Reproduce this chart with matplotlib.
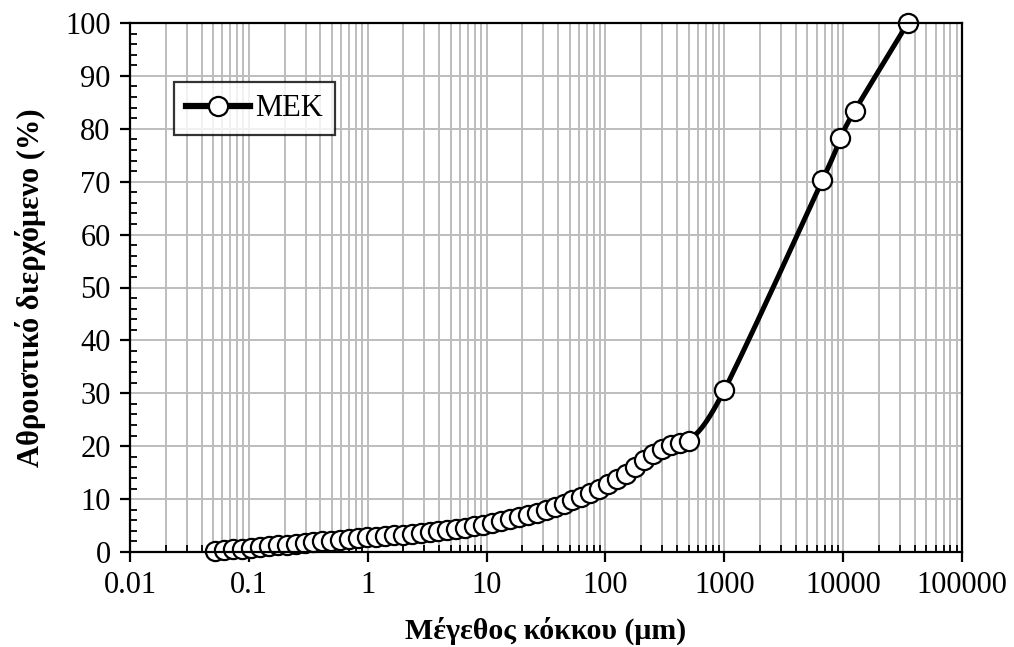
import numpy as np
import matplotlib
matplotlib.use("Agg")
import matplotlib.pyplot as plt
from matplotlib.ticker import LogLocator, FixedLocator, FixedFormatter, MultipleLocator, NullFormatter
from matplotlib.lines import Line2D

# ---- data ----
size_um = [0.052, 0.0618, 0.0735, 0.0874, 0.104, 0.1235, 0.147, 0.175, 0.208, 0.247,
           0.294, 0.349, 0.415, 0.493, 0.587, 0.698, 0.829, 0.986, 1.172, 1.394,
           1.657, 1.970, 2.343, 2.786, 3.312, 3.938, 4.682, 5.567, 6.619, 7.869,
           9.357, 11.12, 13.23, 15.73, 18.70, 22.23, 26.43, 31.43, 37.36, 44.43,
           52.82, 62.81, 74.67, 88.78, 105.6, 125.5, 149.2, 177.4, 210.9, 250.8,
           298.2, 354.5, 421.5, 501.2, 1000, 6700, 9500, 12500, 35000]
passing_pct = [0.2, 0.35, 0.5, 0.65, 0.8, 0.95, 1.1, 1.25, 1.4, 1.55,
               1.7, 1.85, 2.0, 2.15, 2.3, 2.45, 2.6, 2.75, 2.9, 3.0,
               3.15, 3.3, 3.45, 3.6, 3.75, 3.95, 4.15, 4.35, 4.6, 4.85,
               5.15, 5.45, 5.8, 6.15, 6.55, 7.0, 7.45, 7.95, 8.5, 9.1,
               9.75, 10.45, 11.2, 12.0, 12.85, 13.8, 14.8, 16.0, 17.4, 18.6,
               19.5, 20.2, 20.6, 20.9, 30.6, 70.3, 78.2, 83.4, 100.0]
series_name = "ΜΕΚ"
x_tick_values = [0.01, 0.1, 1, 10, 100, 1000, 10000, 100000]
x_tick_labels = ["0.01", "0.1", "1", "10", "100", "1000", "10000", "100000"]
x_label = "Μέγεθος κόκκου (μm)"
y_label = "Αθροιστικό διερχόμενο (%)"

plt.rcParams['font.family'] = ['Liberation Serif', 'DejaVu Serif']

fig = plt.figure(figsize=(10.14, 6.47), dpi=100)
ax = fig.add_axes([130/1014, 95/647, 832/1014, 529/647])

# smoothed line (Catmull-Rom in log-x space), rendering only
lx = np.log10(np.array(size_um))
yy = np.array(passing_pct)
P = np.column_stack([lx, yy])
Pext = np.vstack([2*P[0]-P[1], P, 2*P[-1]-P[-2]])
seg = []
t = np.linspace(0, 1, 16)[:, None]
for i in range(1, len(Pext)-2):
    p0, p1, p2, p3 = Pext[i-1], Pext[i], Pext[i+1], Pext[i+2]
    c = 0.5*((2*p1) + (-p0+p2)*t + (2*p0-5*p1+4*p2-p3)*t**2 + (-p0+3*p1-3*p2+p3)*t**3)
    seg.append(c if i == 1 else c[1:])
curve = np.vstack(seg)

MS = 13.8
MEW = 1.6
ax.plot(10**curve[:, 0], curve[:, 1], color='black', lw=3.6, zorder=3, solid_capstyle='round')
ax.plot(size_um, passing_pct, linestyle='none', marker='o', markersize=MS,
        markerfacecolor='white', markeredgecolor='black', markeredgewidth=MEW,
        zorder=4, clip_on=False)

ax.set_xscale('log')
ax.set_xlim(0.01, 100000)
ax.set_ylim(0, 100)

ax.xaxis.set_major_locator(FixedLocator(x_tick_values))
ax.xaxis.set_major_formatter(FixedFormatter(x_tick_labels))
ax.xaxis.set_minor_locator(LogLocator(base=10, subs=np.arange(2, 10), numticks=100))
ax.xaxis.set_minor_formatter(NullFormatter())
ax.yaxis.set_major_locator(MultipleLocator(10))
ax.yaxis.set_minor_locator(MultipleLocator(2))

ax.grid(which='major', axis='both', color='#bdbdbd', lw=1.4, zorder=0)
ax.grid(which='minor', axis='x', color='#bdbdbd', lw=1.4, zorder=0)
ax.set_axisbelow(True)

for s in ax.spines.values():
    s.set_linewidth(1.6)
    s.set_color('black')
    s.set_zorder(5)

ax.tick_params(which='major', direction='out', length=7, width=1.6, labelsize=22, pad=7)
ax.tick_params(which='minor', direction='in', length=5, width=1.3)

ax.set_xlabel(x_label, fontsize=21.5, fontweight='bold', labelpad=12)
ax.set_ylabel(y_label, fontsize=22, fontweight='bold', labelpad=14)

h = Line2D([], [], color='black', lw=4.5, marker='o', markersize=MS, markerfacecolor='white',
           markeredgecolor='black', markeredgewidth=MEW)
leg = ax.legend([h], [series_name], loc='upper left',
                bbox_to_anchor=(44/832, 1-59/529), fontsize=22, frameon=True,
                fancybox=False, edgecolor='black', handlelength=2.1, borderpad=0.4,
                handletextpad=0.15, borderaxespad=0)
leg.get_frame().set_linewidth(1.6)
leg.set_zorder(6)

fig.savefig('out.png', dpi=100)
